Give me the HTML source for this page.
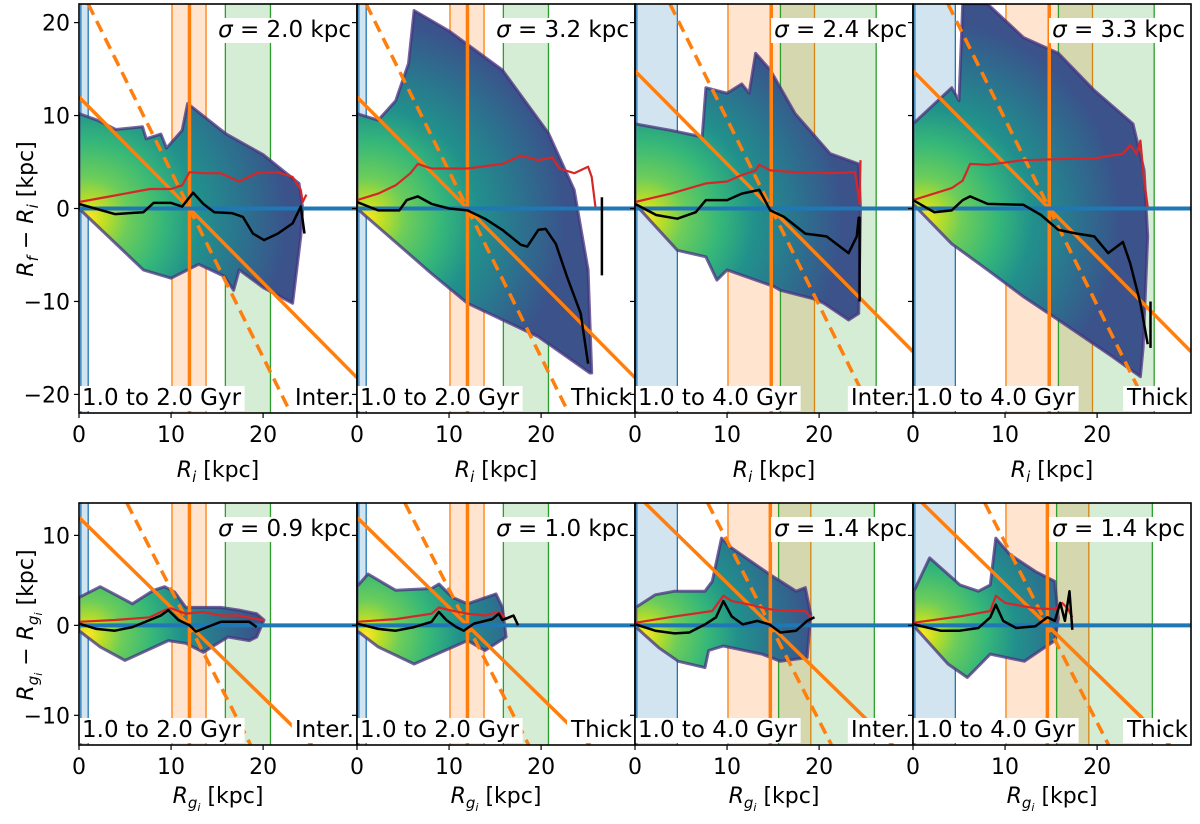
<!DOCTYPE html>
<html><head><meta charset="utf-8"><style>
html,body{margin:0;padding:0;background:#fff;overflow:hidden;width:1200px;height:824px;}
svg{display:block;font-family:"DejaVu Sans","Liberation Sans",sans-serif;}
</style></head><body>
<svg id="fig" width="1200" height="824" viewBox="0 0 1200 824" xmlns="http://www.w3.org/2000/svg"></svg>
<script>
// ---------- data ----------
const sigmaVals = ["2.0","3.2","2.4","3.3","0.9","1.0","1.4","1.4"];
const ageLabels = ["1.0 to 2.0 Gyr","1.0 to 2.0 Gyr","1.0 to 4.0 Gyr","1.0 to 4.0 Gyr","1.0 to 2.0 Gyr","1.0 to 2.0 Gyr","1.0 to 4.0 Gyr","1.0 to 4.0 Gyr"];
const popLabels = ["Inter.","Thick","Inter.","Thick","Inter.","Thick","Inter.","Thick"];
const guideR = [12,12,14.8,14.8,12,12,14.7,14.6];
const blueBand = [[0.2,1.0],[0.2,1.0],[0.2,4.6],[0.2,4.6],[0.2,1.0],[0.2,1.0],[0.2,4.6],[0.2,4.6]];
const orangeBand = [[10.1,13.8],[10.1,13.8],[10.1,19.5],[10.1,19.5],[10.1,13.8],[10.1,13.8],[10.1,19.1],[10.1,19.1]];
const greenBand = [[15.9,20.8],[15.9,20.8],[15.8,26.2],[15.8,26.2],[15.9,20.8],[15.9,20.8],[15.6,26],[15.6,26]];
const xTicks = [0,10,20];
const yTicksTop = [-20,-10,0,10,20];
const yTicksBot = [-10,0,10];

const envelopes = [
 [[0,10.2],[2,9.5],[4,8.5],[6.9,8.8],[7.3,7.5],[8.9,8],[9.5,6.5],[11.2,8.4],[11.8,11.3],[16,8],[20,5.8],[23.9,2.7],[24.3,0],[24.1,-3],[23.2,-10.2],[20,-8.5],[17.4,-6.6],[16.8,-8.8],[15.8,-7.3],[13,-6],[10,-7.5],[7,-6.6],[0,0]],
 [[0,10.2],[2.3,9.5],[4.2,11.6],[5.6,15.6],[6.2,21.3],[10,19.1],[15.8,14.9],[20.8,8.1],[23.6,2],[25.1,-6.6],[25.5,-17.7],[25.3,-17.7],[19.7,-13.8],[12,-10.2],[8.1,-7],[0,0]],
 [[0,9.1],[3.9,8.4],[7.3,7.7],[7.7,13],[10,12.4],[11.6,13.4],[12.4,12.4],[13.1,16.7],[14.7,14.9],[17.4,10.2],[21.2,5.9],[24.3,4.8],[24.5,0],[24.3,-11.3],[23.2,-12],[20.5,-10.2],[19.7,-9.8],[15.8,-8.8],[15.1,-8.4],[10,-6.6],[8.9,-7.7],[7.7,-5.2],[4.6,-4.5],[0,0.5]],
 [[0,9.1],[4.2,13],[5,11.6],[5.4,22],[8.1,22],[12,18.4],[15.8,16.7],[19.7,12.7],[23.9,9.1],[25.1,4.1],[25.5,-3],[25,-15],[24.7,-18.1],[21.6,-15.9],[15.8,-12],[12,-9.5],[8.1,-6.6],[4.2,-3.8],[0,0.5]],
 [[0,3.1],[2.3,4.3],[5.8,2.4],[8.1,3.9],[9.3,4.3],[10.4,3.7],[11.6,2],[15.4,2],[17.4,1.7],[19.3,1.3],[20.1,0.6],[19.3,-1.3],[18.5,-1.7],[16.2,-1.3],[13.5,-3],[11.6,-2],[9.7,-1.7],[5,-3.9],[2.3,-2.4],[0,-0.6]],
 [[0,4.3],[1.2,5.7],[4.2,3.9],[8.1,4.1],[8.9,4.6],[10.4,3.1],[12,2.4],[15.1,3.5],[15.8,2],[16.2,-1.3],[13.9,-2.8],[12,-1.7],[6.2,-4.3],[2.3,-2.4],[0,-0.6]],
 [[0.1,2],[2.2,3.4],[4.3,3.8],[7.6,3.8],[8.4,4.9],[9.4,9.7],[10.5,8.6],[14.6,5.7],[17.5,3.8],[18.5,4.2],[19.1,1.2],[18.7,-3.6],[15.8,-4],[13.8,-3.2],[9.6,-2.3],[8,-2.8],[7.6,-4.7],[4.7,-4],[2.6,-2.5],[0.1,-0.2]],
 [[0.1,3.8],[1.8,7.5],[5.1,4.5],[7.1,3.8],[8.4,4.5],[9,9.7],[10.5,7.9],[13.3,6],[15.4,4.9],[15.8,0.8],[15.4,-1.7],[12.1,-4],[8.4,-3.2],[5.9,-5.8],[3.8,-4.3],[0.9,-1],[0.1,-0.1]]
];

const blackX = [
 [0,3.9,7,8.1,10,11.2,12.4,13.5,14.7,16.6,17.8,18.9,20.1,21.6,23.2,24.1,24.5],
 [0,2.3,4.6,5.4,6.6,8.1,10,12,13.9,15.8,17.8,18.5,19.7,20.5,21.6,22.8,24.3,25.1],
 [0,2.3,4.6,6.6,7.7,10,11.6,13.5,14.7,16.2,18.5,20.8,23.2,24.1,24.3,24.4,24.4],
 [0,2.3,4.2,5.4,6.2,8.1,12,13.9,15.8,17.8,19.7,21.2,22.8,23.6,24.7,25.5],
 [0,1.9,3.9,5.8,7.7,8.9,9.7,10.8,12,12.7,13.9,15.4,18.5,19.3],
 [0,2.3,4.2,6.2,8.1,8.9,9.7,10.8,11.6,12.7,14.7,15.4,15.8,17,17.5],
 [0.1,2.2,4.3,5.9,7.6,8.8,9.6,10.5,11.7,13.3,14.6,15.8,17.5,18.7,19.5],
 [0.1,3,5.1,7.1,8.4,9,9.8,11.2,13.3,14.6,15.4,16,16.5,17,17.3]
];
const blackY = [
 [0.5,-0.6,-0.4,0.6,0.6,0.2,1.7,0.5,-0.4,-0.5,-0.9,-2.7,-3.4,-2.7,-1.6,0.2,-2.7],
 [0.7,-0.2,-0.2,0.9,1.3,0.5,0,-0.2,-1.1,-2.3,-3.9,-4.1,-2.3,-2.2,-3.8,-7.3,-11.3,-16.7],
 [0.5,-0.7,-1.1,-0.4,0.9,0.9,1.6,2,-0.2,-0.9,-2.7,-3,-4.8,-3,-1,-1,-10],
 [0.9,-0.4,-0.2,0.9,1.3,0.5,0.4,-0.7,-2.3,-2.7,-3,-4.8,-3.6,-5.9,-10.2,-14.6],
 [0.2,-0.4,-0.6,-0.2,0.6,1.1,1.7,0.6,0,-0.7,-0.2,0.4,0.4,-0.2],
 [0.2,-0.4,-0.6,-0.2,0.4,1.5,0.6,-0.2,-0.6,0.2,0.7,1.3,0.6,1.1,0],
 [0.1,-0.6,-0.9,-0.8,0.1,0.9,2.7,1,0.1,0.5,0.1,-0.8,-0.6,0.5,0.9],
 [0.1,-0.6,-0.6,-0.3,0.9,2.3,0.5,-0.3,-0.1,0.9,0.5,2.5,0.5,3.8,-0.5]
];
const redX = [
 [0,3.9,7.7,10,11.2,12,13.5,15.4,17.4,19.3,21.6,23.2,24.1,24.3,24.7],
 [0,2.3,4.2,5.8,6.6,8.1,12,15.8,17.8,19.7,21.2,22,23.6,25.1,25.5,25.9],
 [0,3.9,7.7,10,11.6,13.1,13.5,14.7,17.4,21.2,23.9,24.4,24.5],
 [0,4.2,5.4,6.2,8.1,12,15.8,19.7,22.8,23.6,24.3,24.7,25.1,25.5],
 [0,3.9,7.7,9.3,10,11.6,13.5,15.4,17.4,19.3,20.1],
 [0,4.2,8.1,8.9,10,12,13.9,15.4,16.2,17],
 [0.1,4.3,8.4,9.6,10.5,12.5,14.6,16.7,18.5,19.1],
 [0.1,5.1,8.4,9,10,13.3,15.4,16.2,16.8,17.3]
];
const redY = [
 [0.7,1.4,2.1,2.1,2.5,3.9,3.8,3.8,2.9,3.8,3.9,3.4,2,0.7,1.5],
 [0.9,1.6,2.5,3.8,4.8,4.3,4.3,4.8,5.7,5.2,5.5,4.3,3.8,4.5,3.4,0.2],
 [0.7,1.6,2.7,2.9,3.6,4.1,4.7,4.1,3.9,3.8,3.9,0.5,5.2],
 [0.9,2.2,3,4.8,4.7,5.2,5.3,5.4,5.9,6.8,5.9,7.3,3,0.2],
 [0.4,0.6,0.9,1.7,1.9,1.3,1.5,1.1,1.1,0.7,0.6],
 [0.4,0.7,1.3,2,1.7,1.3,1.1,1.5,0.7,1.1],
 [0.3,1,1.6,3.3,2.7,2.3,1.8,1.6,1.6,0.9],
 [0.3,1,1.6,3.3,2.5,1.9,1.8,2.5,1.9,0.9]
];
const tailX = [null,[26.6,26.6],null,[25.8,25.8],null,null,null,null];
const tailY = [null,[1.2,-7.2],null,[-10,-15],null,null,null,null];

// ---------- layout ----------
const colLeft = [79,357,635,913], PW = 278;
const rowTop = [4,503], rowH = [409,242];
const ylims = [[-22,22],[-13.3,13.6]];
const xlim = [0,30.2];
const NS = "http://www.w3.org/2000/svg";
const svg = document.getElementById('fig');
function mk(tag, attrs, parent){ const e=document.createElementNS(NS,tag); for(const k in attrs) e.setAttribute(k,attrs[k]); (parent||svg).appendChild(e); return e; }

const defs = mk('defs',{});
const C_OR="#ff7f0e", C_BL="#1f77b4", C_GR="#2ca02c", C_RD="#d62728";

// clip a line y = a + b*x to the panel box
function clipLine(a,b,yl){
  let x0 = xlim[0], x1 = xlim[1];
  // b<0: y decreases with x
  const xAtTop = (yl[1]-a)/b, xAtBot = (yl[0]-a)/b;
  x0 = Math.max(x0, Math.min(xAtTop,xAtBot));
  x1 = Math.min(x1, Math.max(xAtTop,xAtBot));
  return [x0, a+b*x0, x1, a+b*x1];
}

for(let p=0;p<8;p++){
  const r = p<4?0:1, c = p%4;
  const L = colLeft[c], T = rowTop[r], H = rowH[r];
  const yl = ylims[r];
  const sx = v => L + (v-xlim[0])/(xlim[1]-xlim[0])*PW;
  const sy = v => T + (yl[1]-v)/(yl[1]-yl[0])*H;
  const g = mk('g',{});
  
  
  const cp = mk('clipPath',{id:'cp'+p},defs);
  mk('rect',{x:L,y:T,width:PW,height:H},cp);
  const gr = mk('radialGradient',{id:'hg'+p,gradientUnits:'userSpaceOnUse',cx:sx(1),cy:sy(-1),r:(r==0?200:170)},defs);
  [[0,'#fde725'],[0.08,'#c2df23'],[0.2,'#6ccd5a'],[0.38,'#35b779'],[0.55,'#21918c'],[0.78,'#2c718e'],[1,'#3b528b']].forEach(s=>mk('stop',{offset:s[0],'stop-color':s[1]},gr));
  const inner = mk('g',{'clip-path':'url(#cp'+p+')'},g);
  const bands = [[blueBand[p],C_BL,'blue-band'],[orangeBand[p],C_OR,'orange-band'],[greenBand[p],C_GR,'green-band']];
  bands.forEach(b=>{
    const rc = mk('rect',{x:sx(b[0][0]),y:T,width:sx(b[0][1])-sx(b[0][0]),height:H,fill:b[1],'fill-opacity':0.2},inner);
    
    
    b[0].forEach(v=>mk('line',{x1:sx(v),x2:sx(v),y1:T,y2:T+H,stroke:b[1],'stroke-width':1.3},inner));
  });
  const pts = envelopes[p].map(q=>sx(q[0]).toFixed(1)+','+sy(Math.max(yl[0],Math.min(yl[1],q[1]))).toFixed(1)).join(' ');
  const hm = mk('polygon',{points:pts,fill:'url(#hg'+p+')',stroke:'#46327e','stroke-width':3,'stroke-opacity':0.75,'stroke-linejoin':'round'},inner);
  
  
  const R = guideR[p];
  const vl = mk('line',{x1:sx(R),x2:sx(R),y1:T,y2:T+H,stroke:C_OR,'stroke-width':3.5},inner);
  
  
  const s1 = clipLine(R,-1,yl);
  const sl = mk('line',{x1:sx(s1[0]),y1:sy(s1[1]),x2:sx(s1[2]),y2:sy(s1[3]),stroke:C_OR,'stroke-width':3.5},inner);
  
  
  const s2 = clipLine(2*R,-2,yl);
  const dl = mk('line',{x1:sx(s2[0]),y1:sy(s2[1]),x2:sx(s2[2]),y2:sy(s2[3]),stroke:C_OR,'stroke-width':3.5,'stroke-dasharray':'12,7'},inner);
  
  
  const zl = mk('line',{x1:L,x2:L+PW,y1:sy(0),y2:sy(0),stroke:C_BL,'stroke-width':4},inner);
  
  
  const rl = mk('polyline',{points:redX[p].map((x,i)=>sx(x).toFixed(1)+','+sy(redY[p][i]).toFixed(1)).join(' '),fill:'none',stroke:C_RD,'stroke-width':2.2,'stroke-linejoin':'round'},inner);
  
  
  const bl = mk('polyline',{points:blackX[p].map((x,i)=>sx(x).toFixed(1)+','+sy(blackY[p][i]).toFixed(1)).join(' '),fill:'none',stroke:'#000','stroke-width':2.5,'stroke-linejoin':'round'},inner);
  
  
  if(tailX[p]){
    const tl = mk('polyline',{points:tailX[p].map((x,i)=>sx(x).toFixed(1)+','+sy(tailY[p][i]).toFixed(1)).join(' '),fill:'none',stroke:'#000','stroke-width':2.5},inner);
    
    
  }
  const fs = 23;
  const sigTxt = mk('text',{x:L+PW-6,y:T+33,'text-anchor':'end','font-size':fs},g);
  sigTxt.innerHTML = '<tspan font-style="italic">σ</tspan> =  '+sigmaVals[p]+' kpc';
  
  
  const ageT = mk('text',{x:L+3,y:T+H-8,'font-size':fs},g);
  ageT.textContent = ageLabels[p];
  
  
  const popT = mk('text',{x:L+PW-3,y:T+H-8,'text-anchor':'end','font-size':fs},g);
  popT.textContent = popLabels[p];
  
  
  [sigTxt,ageT,popT].forEach(t=>{
    const bb=t.getBBox();
    const bx=mk('rect',{x:bb.x-3,y:bb.y+1,width:bb.width+6,height:bb.height-1,fill:'#fff'},g);
    g.insertBefore(bx,t);
  });
  mk('rect',{x:L,y:T,width:PW,height:H,fill:'none',stroke:'#000','stroke-width':1.6},g);
  xTicks.forEach(v=>{
    mk('line',{x1:sx(v),x2:sx(v),y1:T+H,y2:T+H+5,stroke:'#000','stroke-width':1.2},g);
    const t = mk('text',{x:sx(v),y:T+H+29,'text-anchor':'middle','font-size':22},g);
    t.textContent = v;
    
    
  });
  const yt = r==0?yTicksTop:yTicksBot;
  yt.forEach(v=>{
    mk('line',{x1:L-5,x2:L,y1:sy(v),y2:sy(v),stroke:'#000','stroke-width':1.2},g);
    if(c==0){
      const t = mk('text',{x:L-9,y:sy(v)+8,'text-anchor':'end','font-size':22},g);
      t.textContent = v<0?'\u2212'+(-v):v;
      
      
    }
  });
  const xl = mk('text',{x:L+PW/2,y:T+H+(r==0?64:58),'text-anchor':'middle','font-size':22},g);
  xl.innerHTML = r==0 ? '<tspan font-style="italic">R</tspan><tspan font-style="italic" font-size="15" dy="5">i</tspan><tspan dy="-5"> [kpc]</tspan>'
                      : '<tspan font-style="italic">R</tspan><tspan font-style="italic" font-size="15" dy="5">g</tspan><tspan font-style="italic" font-size="11" dy="3">i</tspan><tspan dy="-8"> [kpc]</tspan>';
  
  
}
const yt1 = mk('text',{x:0,y:0,'text-anchor':'middle','font-size':22,transform:'translate(33,209) rotate(-90)'});
yt1.innerHTML='<tspan font-style="italic">R</tspan><tspan font-style="italic" font-size="15" dy="5">f</tspan><tspan dy="-5"> \u2212 </tspan><tspan font-style="italic">R</tspan><tspan font-style="italic" font-size="15" dy="5">i</tspan><tspan dy="-5"> [kpc]</tspan>';


const yt2 = mk('text',{x:0,y:0,'text-anchor':'middle','font-size':22,transform:'translate(33,625) rotate(-90)'});
yt2.innerHTML='<tspan font-style="italic">R</tspan><tspan font-style="italic" font-size="15" dy="5">g</tspan><tspan font-style="italic" font-size="11" dy="4">i</tspan><tspan dy="-9"> \u2212 </tspan><tspan font-style="italic">R</tspan><tspan font-style="italic" font-size="15" dy="5">g</tspan><tspan font-style="italic" font-size="11" dy="4">i</tspan><tspan dy="-9"> [kpc]</tspan>';


</script>
</body></html>
